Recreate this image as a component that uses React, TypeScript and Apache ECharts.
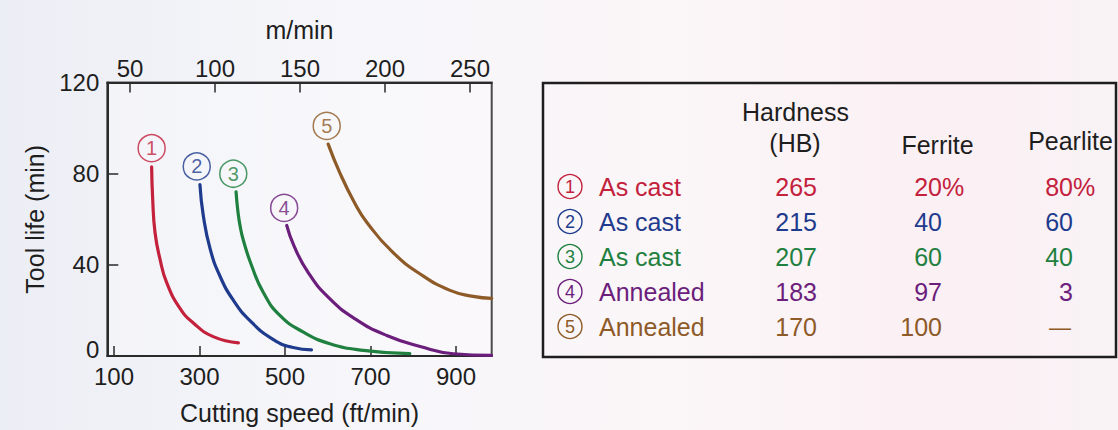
import React, { useEffect, useRef } from "react";
import * as echarts from "echarts";

// ---------- data ----------
const xTicksFt = [100, 300, 500, 700, 900];
const xTicksM = [50, 100, 150, 200, 250];
const yTicks = [0, 40, 80, 120];

const curve1 = [[188, 83], [190.5, 68.7], [196, 54.1], [207.6, 42.5], [223, 32.3], [254, 21], [285.5, 14.5], [332, 8.5], [391, 5.8]];
const curve2 = [[301, 75.2], [309, 61.4], [325, 46.9], [348, 35], [379, 24.5], [418, 15.5], [473, 7.2], [519, 3.7], [562, 2.7]];
const curve3 = [[385.5, 72], [389.5, 64], [395, 57], [403, 50.5], [422, 39.6], [449, 28], [488, 17.8], [543, 10.5], [605, 5.4], [683, 2.5], [792, 1.0]];
const curve4 = [[504, 57.3], [521, 48.3], [554, 36.7], [601, 25.8], [664, 16.3], [738, 9], [816, 4.2], [894, 1.0], [983, 0.3]];
const curve5 = [[601, 93], [628, 80.5], [662, 67.5], [692, 58.5], [753, 45.4], [816, 36], [886, 28.8], [940, 26.2], [983.5, 25.3]];
const curves = [curve1, curve2, curve3, curve4, curve5];

const labelPoints = [[188, 91.2], [293.5, 83.2], [379, 80], [498, 65], [597.5, 101]];

const conditions = ["As cast", "As cast", "As cast", "Annealed", "Annealed"];
const hardness = ["265", "215", "207", "183", "170"];
const ferrite = ["20%", "40", "60", "97", "100"];
const pearlite = ["80%", "60", "40", "3", "—"];
const headerHardness = ["Hardness", "(HB)"];
const headerFerrite = "Ferrite";
const headerPearlite = "Pearlite";

// ---------- styles ----------
const colors = ["#c3213c", "#1f3b8d", "#1f8040", "#6c1e7c", "#8e5a27"];
const FONT = "'Liberation Sans', Arial, Helvetica, sans-serif";
const AXIS = "#2a2a2a";

export default function App() {
  const ref = useRef<HTMLDivElement>(null);

  useEffect(() => {
    document.body.style.margin = "0";
    if (!ref.current) return;
    const chart = echarts.init(ref.current, null, { renderer: "svg" });

    const gridLeft = 107.3;
    const gridTop = 82.6;
    const gridW = 384.4;
    const gridH = 274.6;

    const lineSeries = curves.map((c, i) => ({
      type: "line",
      xAxisIndex: 0,
      yAxisIndex: 0,
      data: c,
      smooth: 0.5,
      showSymbol: false,
      symbol: "none",
      silent: true,
      lineStyle: { color: colors[i], width: 3.2, cap: "round" },
      z: 3,
    }));

    const markerSeries = labelPoints.map((p, i) => ({
      type: "scatter",
      xAxisIndex: 0,
      yAxisIndex: 0,
      data: [p],
      symbol: "circle",
      symbolSize: 27,
      silent: true,
      itemStyle: { color: "rgba(255,255,255,0)", borderColor: colors[i], borderWidth: 1.5 },
      label: {
        show: true,
        position: "inside",
        formatter: String(i + 1),
        color: colors[i],
        fontSize: 20,
        fontFamily: FONT,
      },
      z: 4,
    }));

    // table graphic
    const tLeft = 543;
    const tTop = 83;
    const tRight = 1116;
    const tBottom = 357;
    const rowY0 = 187;
    const rowStep = 35;
    const circleX = 570;
    const condX = 599;
    const hardRight = 817;
    const ferRight = 942;
    const pearRight = 1073;
    const pearCenter = 1060;

    const g: any[] = [];
    g.push({
      type: "rect",
      shape: { x: tLeft, y: tTop, width: tRight - tLeft, height: tBottom - tTop },
      style: { fill: "none", stroke: "#1e1e1e", lineWidth: 2.5 },
      silent: true,
    });
    const txt = (text: string, x: number, y: number, fill: string, align: string, size = 25) => ({
      type: "text",
      x,
      y,
      silent: true,
      style: { text, fill, font: `${size}px ${FONT}`, align, verticalAlign: "middle" },
    });
    g.push(txt(headerHardness[0], 795.5, 111.5, "#1e1e1e", "center"));
    g.push(txt(headerHardness[1], 795, 143, "#1e1e1e", "center"));
    g.push(txt(headerFerrite, 937.5, 145, "#1e1e1e", "center"));
    g.push(txt(headerPearlite, 1070.5, 141, "#1e1e1e", "center"));

    const numCell = (s: string, right: number, y: number, c: string, center: number) => {
      if (!/[0-9]/.test(s)) {
        g.push(txt(s, center, y, c, "center", 22));
        return;
      }
      const hasPct = s.endsWith("%");
      const num = hasPct ? s.slice(0, -1) : s;
      g.push(txt(num, right, y, c, "right"));
      if (hasPct) g.push(txt("%", right, y, c, "left"));
    };

    conditions.forEach((cond, i) => {
      const y = rowY0 + i * rowStep;
      const c = colors[i];
      g.push({
        type: "circle",
        silent: true,
        shape: { cx: circleX, cy: y - 0.5, r: 12 },
        style: { fill: "none", stroke: c, lineWidth: 1.4 },
      });
      g.push(txt(String(i + 1), circleX, y, c, "center", 18));
      g.push(txt(cond, condX, y, c, "left"));
      numCell(hardness[i], hardRight, y, c, 795);
      numCell(ferrite[i], ferRight, y, c, 928);
      numCell(pearlite[i], pearRight, y, c, pearCenter);
    });

    const option: any = {
      animation: false,
      backgroundColor: {
        type: "linear",
        x: 0,
        y: 0,
        x2: 1,
        y2: 0,
        colorStops: [
          { offset: 0, color: "#eceef5" },
          { offset: 0.3, color: "#f6f6fa" },
          { offset: 0.6, color: "#fbf6f8" },
          { offset: 0.85, color: "#fbf0f4" },
          { offset: 1, color: "#f9f3f6" },
        ],
      },
      textStyle: { fontFamily: FONT },
      grid: {
        left: gridLeft,
        top: gridTop,
        width: gridW,
        height: gridH,
        show: true,
        borderColor: "#4a4a4a",
        borderWidth: 2,
        backgroundColor: "rgba(255,255,255,0.25)",
      },
      xAxis: [
        {
          type: "value",
          position: "bottom",
          min: 84.3,
          max: 983.5,
          name: "Cutting speed (ft/min)",
          nameLocation: "middle",
          nameGap: 44,
          nameTextStyle: { fontSize: 25, color: "#1e1e1e", fontFamily: FONT },
          axisLine: { show: true, onZero: false, lineStyle: { color: AXIS, width: 2 } },
          axisTick: { show: true, inside: true, length: 10, customValues: xTicksFt, lineStyle: { color: AXIS, width: 1.5 } },
          axisLabel: { show: true, customValues: xTicksFt, fontSize: 24, color: "#1e1e1e", margin: 8, fontFamily: FONT },
          splitLine: { show: false },
        },
        {
          type: "value",
          position: "top",
          min: 36.65,
          max: 262.76,
          name: "m/min",
          nameLocation: "middle",
          nameGap: 40,
          nameTextStyle: { fontSize: 25, color: "#1e1e1e", fontFamily: FONT },
          axisLine: { show: true, onZero: false, lineStyle: { color: AXIS, width: 2 } },
          axisTick: { show: true, inside: true, length: 10, customValues: xTicksM, lineStyle: { color: AXIS, width: 1.5 } },
          axisLabel: { show: true, customValues: xTicksM, fontSize: 24, color: "#1e1e1e", margin: 2, fontFamily: FONT },
          splitLine: { show: false },
        },
      ],
      yAxis: [
        {
          type: "value",
          min: 0,
          max: 120,
          interval: 40,
          name: "Tool life (min)",
          nameLocation: "middle",
          nameGap: 60,
          nameTextStyle: { fontSize: 25, color: "#1e1e1e", fontFamily: FONT },
          axisLine: { show: true, onZero: false, lineStyle: { color: AXIS, width: 2 } },
          axisTick: { show: true, inside: true, length: 11, customValues: yTicks, lineStyle: { color: AXIS, width: 1.5 } },
          axisLabel: {
            show: true,
            customValues: yTicks,
            fontSize: 24,
            color: "#1e1e1e",
            margin: 8,
            fontFamily: FONT,
            formatter: (v: number) => (v === 0 ? "{z|0}" : String(v)),
            rich: { z: { fontSize: 24, color: "#1e1e1e", fontFamily: FONT, padding: [0, 0, 14, 0] } },
          },
          splitLine: { show: false },
        },
      ],
      series: [...lineSeries, ...markerSeries],
      graphic: g,
    };

    chart.setOption(option);
    return () => chart.dispose();
  }, []);

  return <div ref={ref} style={{ width: 1118, height: 430 }} />;
}
